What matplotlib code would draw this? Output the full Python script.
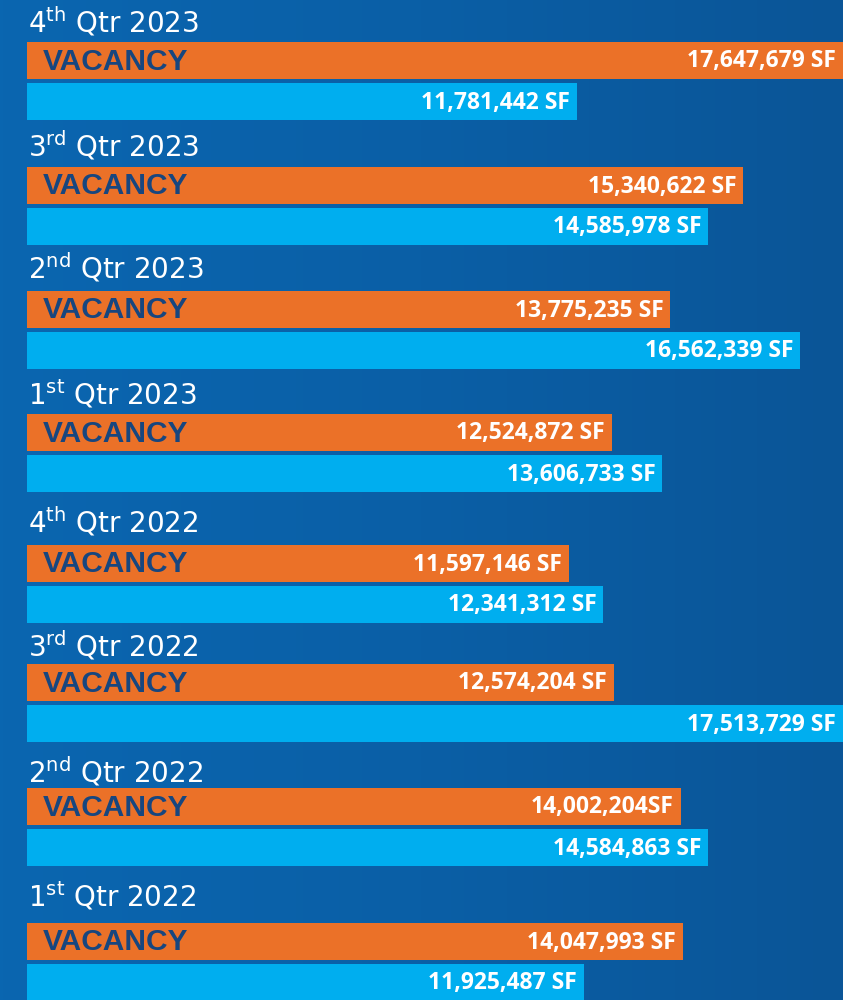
import matplotlib
matplotlib.use('Agg')
import matplotlib.pyplot as plt
import matplotlib.transforms as mtransforms
import numpy as np
from matplotlib.colors import LinearSegmentedColormap

# ---- data ----
q_numbers = ['4', '3', '2', '1', '4', '3', '2', '1']
q_suffix = ['th', 'rd', 'nd', 'st', 'th', 'rd', 'nd', 'st']
q_years = ['2023', '2023', '2023', '2023', '2022', '2022', '2022', '2022']
vacancy = [17647679, 15340622, 13775235, 12524872, 11597146, 12574204, 14002204, 14047993]
vacancy_labels = ['17,647,679 SF', '15,340,622 SF', '13,775,235 SF', '12,524,872 SF',
                  '11,597,146 SF', '12,574,204 SF', '14,002,204SF', '14,047,993 SF']
second = [11781442, 14585978, 16562339, 13606733, 12341312, 17513729, 14584863, 11925487]
second_labels = ['11,781,442 SF', '14,585,978 SF', '16,562,339 SF', '13,606,733 SF',
                 '12,341,312 SF', '17,513,729 SF', '14,584,863 SF', '11,925,487 SF']

# ---- layout (pixels) ----
W, H = 843, 1000
X0 = 27            # pixel where zero sits
PX_PER_M = 46.7    # pixels per million SF
group_tops = [42, 167, 291, 414, 545, 664, 788, 923]
title_baselines = [33, 157, 278, 404, 533, 657, 782, 906]
BAR_H = 37
GAP = 4

ORANGE = '#EB7128'
LIGHT = '#00AEEF'
NAVY = '#17467F'

fig = plt.figure(figsize=(W / 100, H / 100), dpi=100)
ax = fig.add_axes([0, 0, 1, 1])
xmin = -X0 / PX_PER_M * 1e6
xmax = (W - X0) / PX_PER_M * 1e6
ax.set_xlim(xmin, xmax)
ax.set_ylim(H, 0)
ax.axis('off')

# background gradient
cmap = LinearSegmentedColormap.from_list('bg', ['#0A66B0', '#0A5FA6', '#0A5597'])
grad = np.linspace(0, 1, 256).reshape(1, -1)
ax.imshow(grad, cmap=cmap, aspect='auto', extent=(xmin, xmax, H, 0), zorder=0)

o_centers = [t + BAR_H / 2 for t in group_tops]
b_centers = [t + BAR_H + GAP + BAR_H / 2 for t in group_tops]

ax.barh(o_centers, vacancy, height=BAR_H, left=0, color=ORANGE, zorder=2)
ax.barh(b_centers, second, height=BAR_H, left=0, color=LIGHT, zorder=2)

lab_tr = mtransforms.offset_copy(ax.transData, fig=fig, x=-7, y=0, units='dots')
vac_tr = mtransforms.offset_copy(ax.transData, fig=fig, x=16, y=0, units='dots')
title_tr = mtransforms.offset_copy(ax.transData, fig=fig, x=1, y=0, units='dots')

for i in range(len(vacancy)):
    # title
    ax.text(0, title_baselines[i],
            q_numbers[i] + r'$^{\mathrm{' + q_suffix[i] + r'}}$' + ' Qtr ' + q_years[i],
            transform=title_tr, ha='left', va='baseline', color='white',
            fontsize=20, family='DejaVu Sans', zorder=3)
    # VACANCY word
    ax.text(0, o_centers[i] + 1, 'VACANCY', transform=vac_tr, ha='left', va='center',
            color=NAVY, fontsize=21.5, fontweight='bold', family='Liberation Sans', zorder=3)
    # value labels
    ax.text(min(vacancy[i], xmax), o_centers[i] + 1, vacancy_labels[i], transform=lab_tr,
            ha='right', va='center', color='white', fontsize=16.5, fontweight='bold',
            family='Open Sans', zorder=3)
    ax.text(min(second[i], xmax), b_centers[i] + 1, second_labels[i], transform=lab_tr,
            ha='right', va='center', color='white', fontsize=16.5, fontweight='bold',
            family='Open Sans', zorder=3)

fig.savefig('out.png', dpi=100)
